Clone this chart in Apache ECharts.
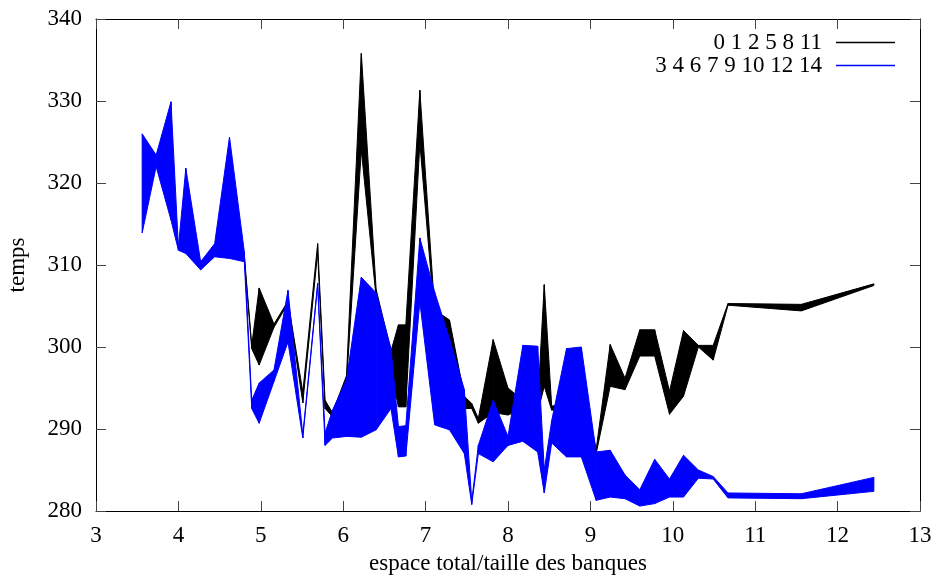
<!DOCTYPE html>
<html>
<head>
<meta charset="utf-8">
<script src="https://cdn.jsdelivr.net/npm/echarts@6/dist/echarts.min.js"></script>
<style>
html,body{margin:0;padding:0;background:#fff;}
#chart{width:936px;height:576px;}
</style>
</head>
<body>
<div id="chart"></div>
<script>
// Series names
const blackName = '0 1 2 5 8 11';
const blueName = '3 4 6 7 9 10 12 14';

// Band "0 1 2 5 8 11" (black): x, lower curve, upper curve
const blackX  = [4.80, 4.89, 4.98, 5.16, 5.33, 5.51, 5.69, 5.78, 5.87, 6.04, 6.22, 6.40, 6.58, 6.67, 6.76, 6.93, 7.11, 7.29, 7.47, 7.56, 7.64, 7.82, 8.00, 8.18, 8.36, 8.44, 8.53, 8.71, 8.89, 9.07, 9.24, 9.42, 9.60, 9.78, 9.96, 10.13, 10.31, 10.49, 10.67, 11.56, 12.44];
const blackLo = [310.8, 299.8, 297.8, 302.4, 305.3, 293.2, 311.5, 292.5, 291.5, 295.5, 324.0, 306.0, 297.0, 292.7, 292.7, 324.9, 303.5, 300.0, 292.5, 292.5, 290.7, 292.0, 291.7, 292.5, 292.0, 295.2, 292.3, 292.5, 292.0, 287.0, 295.2, 294.8, 298.9, 298.9, 291.8, 294.0, 300.0, 298.4, 305.1, 304.4, 307.5];
const blackHi = [311.2, 300.2, 307.2, 302.8, 305.6, 294.5, 312.6, 293.5, 292.0, 296.5, 335.8, 307.0, 299.5, 302.7, 302.7, 331.3, 304.5, 303.3, 294.0, 293.1, 291.3, 300.9, 295.0, 293.5, 293.0, 307.6, 292.8, 293.0, 296.0, 287.5, 300.3, 296.2, 302.1, 302.1, 294.6, 302.0, 300.2, 300.2, 305.3, 305.2, 307.7];

// Band "3 4 6 7 9 10 12 14" (blue): x, lower curve, upper curve
const blueX  = [3.56, 3.73, 3.91, 4.00, 4.09, 4.27, 4.44, 4.62, 4.80, 4.89, 4.98, 5.16, 5.33, 5.51, 5.69, 5.78, 5.87, 6.04, 6.22, 6.40, 6.58, 6.67, 6.76, 6.93, 7.11, 7.29, 7.47, 7.56, 7.64, 7.82, 8.00, 8.18, 8.36, 8.44, 8.53, 8.71, 8.89, 9.07, 9.24, 9.42, 9.60, 9.78, 9.96, 10.13, 10.31, 10.49, 10.67, 11.56, 12.44];
const blueLo = [313.9, 322.0, 315.5, 311.8, 311.4, 309.4, 311.0, 310.8, 310.4, 292.5, 290.7, 295.8, 300.6, 288.9, 307.5, 288.0, 288.9, 289.1, 289.0, 289.9, 292.5, 286.6, 286.7, 305.5, 290.5, 289.9, 287.0, 280.8, 287.0, 286.0, 288.0, 288.5, 287.2, 282.2, 288.3, 286.6, 286.6, 281.3, 281.7, 281.5, 280.6, 280.9, 281.7, 281.7, 284.0, 283.9, 281.6, 281.5, 282.4];
const blueHi = [326.0, 323.4, 329.9, 312.2, 321.8, 310.4, 312.6, 325.6, 311.6, 293.5, 295.6, 297.2, 306.9, 289.3, 307.8, 289.5, 292.3, 296.0, 308.5, 306.6, 299.8, 290.3, 290.4, 313.3, 306.7, 301.0, 294.8, 281.2, 288.0, 293.5, 289.1, 300.2, 300.1, 285.0, 291.0, 299.8, 300.0, 287.2, 287.4, 284.4, 282.6, 286.3, 283.9, 286.8, 285.0, 284.2, 282.2, 282.1, 284.1];

// Axis ticks
const xTicks = [3, 4, 5, 6, 7, 8, 9, 10, 11, 12, 13];
const yTicks = [280, 290, 300, 310, 320, 330, 340];

const FONT = '"Liberation Serif", "Times New Roman", serif';
const FS = 23;

function rows(x, lo, hi) {
  return x.map((v, i) => [v, lo[i], hi[i]]);
}

function bandRenderer(x, lo, hi, color) {
  return function (params, api) {
    const i = params.dataIndex;
    if (i >= x.length - 1) return null;
    const pts = [
      api.coord([x[i], hi[i]]),
      api.coord([x[i + 1], hi[i + 1]]),
      api.coord([x[i + 1], lo[i + 1]]),
      api.coord([x[i], lo[i]])
    ];
    return {
      type: 'polygon',
      shape: { points: pts },
      style: { fill: color, stroke: color, lineWidth: 1, lineJoin: 'miter' }
    };
  };
}

const axisCommon = {
  type: 'value',
  axisLine: { show: true, lineStyle: { color: '#000', width: 1 } },
  axisTick: { show: true, inside: true, length: 10, lineStyle: { color: '#444', width: 1 } },
  splitLine: { show: false }
};

const chart = echarts.init(document.getElementById('chart'), null, { renderer: 'canvas' });
chart.setOption({
  animation: false,
  backgroundColor: '#fff',
  textStyle: { fontFamily: FONT },
  grid: { left: 96, right: 16, top: 19, bottom: 65, containLabel: false, outerBoundsMode: 'none' },
  legend: {
    orient: 'vertical',
    align: 'right',
    right: 41,
    top: 31,
    padding: 0,
    itemGap: 0,
    itemWidth: 59,
    itemHeight: 1.5,
    icon: 'rect',
    selectedMode: false,
    textStyle: { fontFamily: FONT, fontSize: FS, color: '#000', lineHeight: 19, padding: [0, 9, 0, 0] },
    data: [blackName, blueName]
  },
  xAxis: [
    Object.assign({}, axisCommon, {
      position: 'bottom',
      min: xTicks[0], max: xTicks[xTicks.length - 1], interval: 1,
      axisLabel: { show: true, color: '#000', fontFamily: FONT, fontSize: FS, margin: 13 },
      name: 'espace total/taille des banques',
      nameLocation: 'middle',
      nameGap: 41,
      nameTextStyle: { color: '#000', fontFamily: FONT, fontSize: FS }
    }),
    Object.assign({}, axisCommon, {
      position: 'top',
      min: xTicks[0], max: xTicks[xTicks.length - 1], interval: 1,
      axisLabel: { show: false }
    })
  ],
  yAxis: [
    Object.assign({}, axisCommon, {
      position: 'left',
      min: yTicks[0], max: yTicks[yTicks.length - 1], interval: 10,
      axisLabel: { show: true, color: '#000', fontFamily: FONT, fontSize: FS, margin: 14, padding: [5, 0, 0, 0] },
      name: 'temps',
      nameLocation: 'middle',
      nameGap: 67,
      nameTextStyle: { color: '#000', fontFamily: FONT, fontSize: FS }
    }),
    Object.assign({}, axisCommon, {
      position: 'right',
      min: yTicks[0], max: yTicks[yTicks.length - 1], interval: 10,
      axisLabel: { show: false }
    })
  ],
  series: [
    {
      name: blackName,
      type: 'custom',
      xAxisIndex: 0, yAxisIndex: 0,
      itemStyle: { color: '#000000' },
      renderItem: bandRenderer(blackX, blackLo, blackHi, '#000000'),
      encode: { x: 0, y: [1, 2] },
      data: rows(blackX, blackLo, blackHi),
      clip: true
    },
    {
      name: blueName,
      type: 'custom',
      xAxisIndex: 0, yAxisIndex: 0,
      itemStyle: { color: '#0000ff' },
      renderItem: bandRenderer(blueX, blueLo, blueHi, '#0000ff'),
      encode: { x: 0, y: [1, 2] },
      data: rows(blueX, blueLo, blueHi),
      clip: true
    }
  ]
});
</script>
</body>
</html>
